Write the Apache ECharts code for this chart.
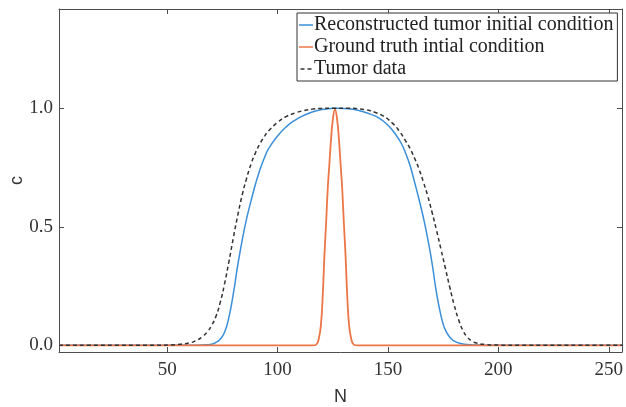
<!DOCTYPE html>
<html>
<head>
<meta charset="utf-8">
<script src="https://cdn.jsdelivr.net/npm/echarts@6/dist/echarts.min.js"></script>
<style>
  html, body { margin: 0; padding: 0; background: #fff; }
  #chart { width: 626px; height: 407px; }
</style>
</head>
<body>
<div id="chart"></div>
<script>
// reconstructed tumor initial condition (blue)
var reconN = [1, 50, 60, 66, 70, 72, 74, 76, 78, 80, 82, 84, 86, 88, 90, 92, 94, 96, 100, 104, 108, 112, 116, 120, 124, 126, 130, 134, 138, 142, 146, 150, 153, 156, 158, 160, 162, 164, 166, 168, 170, 172, 174, 175, 176, 178, 180, 183, 187, 192, 197, 256];
var reconC = [0, 0, 0.0005, 0.002, 0.005, 0.012, 0.026, 0.055, 0.12, 0.22, 0.34, 0.445, 0.535, 0.61, 0.68, 0.74, 0.79, 0.83, 0.883, 0.922, 0.95, 0.97, 0.985, 0.994, 0.999, 1.0, 0.999, 0.995, 0.987, 0.975, 0.958, 0.928, 0.895, 0.852, 0.81, 0.758, 0.69, 0.618, 0.54, 0.45, 0.345, 0.22, 0.125, 0.09, 0.065, 0.034, 0.018, 0.008, 0.003, 0.001, 0, 0];

// ground truth initial condition (orange)
var truthN = [1, 116, 117.5, 118.7, 119.7, 120.5, 121.2, 122, 122.7, 123.5, 124.2, 125, 126, 127, 127.8, 128.5, 129.3, 130, 130.8, 131.5, 132.3, 133.3, 134.5, 136, 256];
var truthC = [0, 0, 0.003, 0.03, 0.094, 0.22, 0.375, 0.52, 0.656, 0.77, 0.866, 0.95, 0.995, 0.95, 0.866, 0.77, 0.656, 0.52, 0.375, 0.22, 0.094, 0.03, 0.003, 0, 0];

// tumor data (black dashed)
var dataN = [1, 45, 52, 56, 60, 63, 66, 68, 70, 72, 74, 76, 78, 80, 82, 84, 86, 88, 90, 92, 94, 96, 100, 104, 108, 112, 116, 120, 126, 132, 136, 140, 144, 148, 152, 155, 158, 160, 162, 164, 166, 168, 170, 172, 174, 176, 178, 180, 182, 184, 186, 188, 190, 194, 200, 210, 256];
var dataC = [0, 0, 0.002, 0.005, 0.01, 0.02, 0.037, 0.055, 0.082, 0.12, 0.18, 0.26, 0.355, 0.455, 0.55, 0.635, 0.705, 0.765, 0.812, 0.85, 0.88, 0.905, 0.94, 0.965, 0.98, 0.99, 0.996, 0.999, 1.0, 1.0, 0.998, 0.993, 0.983, 0.966, 0.937, 0.905, 0.862, 0.83, 0.79, 0.745, 0.69, 0.63, 0.56, 0.485, 0.405, 0.325, 0.245, 0.17, 0.108, 0.062, 0.034, 0.018, 0.01, 0.004, 0.001, 0, 0];

var xTicks = [50, 100, 150, 200, 250];
var yTicks = [0, 0.5, 1.0];

function zip(xs, ys) {
  return xs.map(function (x, i) { return [x, ys[i]]; });
}

var serif = 'Liberation Serif';
var axisColor = '#4d4d4d';
var blue = '#3a8fd8';
var orange = '#ec7646';

var chart = echarts.init(document.getElementById('chart'));

// mirrored top / right axes, just ticks and the box line
function frameAxis(pos, ticks) {
  var isX = pos === 'top';
  return {
    type: 'value',
    position: pos,
    min: isX ? 1 : -0.028,
    max: isX ? 256 : 1.418,
    axisLine: { show: true, onZero: false, lineStyle: { color: axisColor, width: 1 } },
    axisTick: { show: true, inside: true, length: 5, customValues: ticks, lineStyle: { color: axisColor } },
    axisLabel: { show: false },
    splitLine: { show: false }
  };
}

chart.setOption({
  animation: false,
  grid: { left: 59, right: 4, top: 9, bottom: 55, containLabel: false, outerBoundsMode: 'none' },
  legend: {
    orient: 'vertical',
    left: 297,
    top: 13,
    padding: [2, 4, 2, 2],
    itemGap: 2,
    itemWidth: 14,
    itemHeight: 1.5,
    backgroundColor: '#fff',
    borderColor: '#333',
    borderWidth: 1,
    borderRadius: 0,
    textStyle: { fontFamily: serif, fontSize: 20, color: '#222', padding: [0, 0, 0, -4] },
    data: [
      { name: 'Reconstructed tumor initial condition', icon: 'path://M0,0H14V1.5H0Z', itemStyle: { color: blue } },
      { name: 'Ground truth intial condition', icon: 'path://M0,0H14V1.5H0Z', itemStyle: { color: orange } },
      { name: 'Tumor data', icon: 'path://M1,0H5V1.5H1Z M8,0H12V1.5H8Z', itemStyle: { color: '#333' } }
    ]
  },
  xAxis: [{
    type: 'value',
    min: 1,
    max: 256,
    name: 'N',
    nameLocation: 'middle',
    nameGap: 36,
    nameMoveOverlap: false,
    nameTextStyle: { fontFamily: 'Liberation Sans', fontSize: 18, color: '#333' },
    axisLine: { show: true, onZero: false, lineStyle: { color: axisColor, width: 1 } },
    axisTick: { show: true, inside: true, length: 5, customValues: xTicks, lineStyle: { color: axisColor } },
    axisLabel: { customValues: xTicks, fontFamily: serif, fontSize: 19, color: '#333', margin: 9 },
    splitLine: { show: false }
  }, frameAxis('top', xTicks)],
  yAxis: [{
    type: 'value',
    min: -0.028,
    max: 1.418,
    name: 'c',
    nameLocation: 'middle',
    nameGap: 33,
    nameMoveOverlap: false,
    nameTextStyle: { fontFamily: 'Liberation Sans', fontSize: 18, color: '#333' },
    axisLine: { show: true, onZero: false, lineStyle: { color: axisColor, width: 1 } },
    axisTick: { show: true, inside: true, length: 5, customValues: yTicks, lineStyle: { color: axisColor } },
    axisLabel: {
      customValues: yTicks, fontFamily: serif, fontSize: 19, color: '#333', margin: 6,
      formatter: function (v) { return v.toFixed(1); }
    },
    splitLine: { show: false }
  }, frameAxis('right', yTicks)],
  series: [{
    name: 'Reconstructed tumor initial condition',
    type: 'line',
    data: zip(reconN, reconC),
    symbol: 'none',
    smooth: 0.5,
    lineStyle: { color: blue, width: 1.5 },
    itemStyle: { color: blue }
  }, {
    name: 'Ground truth intial condition',
    type: 'line',
    data: zip(truthN, truthC),
    symbol: 'none',
    smooth: 0.5,
    lineStyle: { color: orange, width: 1.8 },
    itemStyle: { color: orange }
  }, {
    name: 'Tumor data',
    type: 'line',
    data: zip(dataN, dataC),
    symbol: 'none',
    smooth: 0.5,
    lineStyle: { color: '#333', width: 1.5, type: [4, 3] },
    itemStyle: { color: '#333' }
  }]
});
</script>
</body>
</html>
